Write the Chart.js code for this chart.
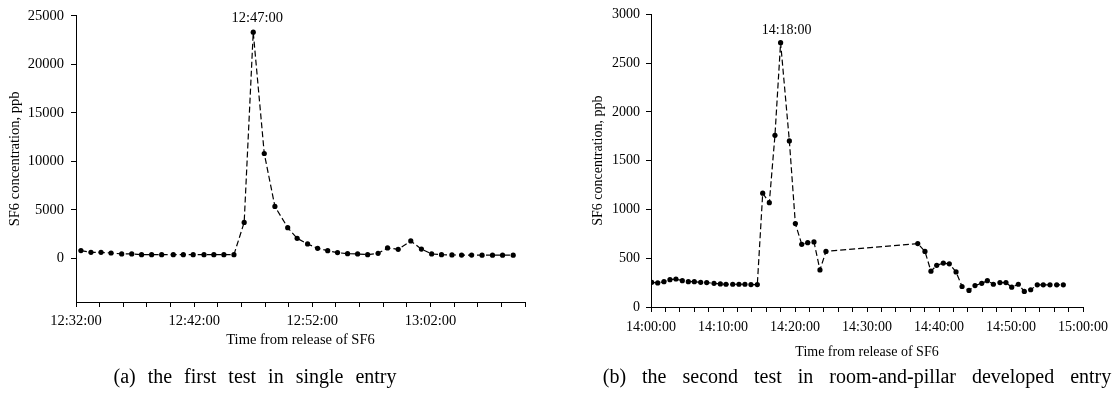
<!DOCTYPE html>
<html>
<head>
<meta charset="utf-8">
<script src="https://cdn.jsdelivr.net/npm/chart.js@4/dist/chart.umd.min.js"></script>
<style>
	body {
		margin: 0;
		background: #fff;
		width: 1120px;
		height: 399px;
		position: relative;
		overflow: hidden;
		font-family: "Liberation Serif", "Times New Roman", serif;
		color: #000;
	}
	.box {
		position: absolute;
		top: 0;
	}
	.box canvas {
		display: block;
	}
	.caption {
		position: absolute;
		top: 365px;
		font-size: 20px;
		line-height: 22px;
		white-space: nowrap;
		transform: translateX(-50%);
	}
</style>
</head>
<body>
<div class="box" style="left:0"><canvas id="chart_first" width="560" height="370"></canvas></div>
<div class="box" style="left:560px"><canvas id="chart_second" width="560" height="370"></canvas></div>
<div class="caption" style="left:255px;word-spacing:7px">(a) the first test in single entry</div>
<div class="caption" style="left:857px;word-spacing:11px">(b) the second test in room-and-pillar developed entry</div>
<script>
'use strict';

// (a) first test, single entry
const firstTimes = [
	'12:32:25', '12:33:16', '12:34:07', '12:34:58', '12:35:52', '12:36:43', '12:37:33', '12:38:24',
	'12:39:15', '12:40:14', '12:41:05', '12:41:55', '12:42:50', '12:43:40', '12:44:31', '12:45:22',
	'12:46:14', '12:47:00', '12:47:56', '12:48:50', '12:49:55', '12:50:43', '12:51:36', '12:52:27',
	'12:53:18', '12:54:08', '12:54:59', '12:55:50', '12:56:41', '12:57:34', '12:58:22', '12:59:16',
	'13:00:20', '13:01:14', '13:02:06', '13:02:56', '13:03:49', '13:04:38', '13:05:29', '13:06:22',
	'13:07:15', '13:08:06', '13:09:00',
];
const firstSF6 = [
	800, 620, 620, 550, 450, 450, 380, 380,
	380, 380, 380, 380, 380, 380, 380, 380,
	3700, 23300, 10800, 5350, 3160, 2060, 1480, 1030,
	790, 590, 480, 450, 380, 520, 1070, 930,
	1790, 950, 450, 380, 350, 330, 330, 320,
	320, 320, 320,
];
const firstRange = ['12:32:00', '13:10:00'];
const firstYTicks = [0, 5000, 10000, 15000, 20000, 25000];
const firstYMin = -4500;

// (b) second test, room-and-pillar developed entry
const secondTimes = [
	'14:00:06', '14:00:56', '14:01:48', '14:02:38', '14:03:28', '14:04:21', '14:05:11', '14:06:01',
	'14:06:54', '14:07:44', '14:08:45', '14:09:38', '14:10:25', '14:11:21', '14:12:13', '14:13:03',
	'14:13:53', '14:14:46', '14:15:31', '14:16:26', '14:17:13', '14:18:00', '14:19:13', '14:20:03',
	'14:20:56', '14:21:46', '14:22:38', '14:23:28', '14:24:18', '14:37:03', '14:38:03', '14:38:53',
	'14:39:41', '14:40:36', '14:41:26', '14:42:22', '14:43:12', '14:44:10', '14:45:00', '14:45:56',
	'14:46:43', '14:47:33', '14:48:28', '14:49:18', '14:50:06', '14:51:01', '14:51:51', '14:52:44',
	'14:53:39', '14:54:29', '14:55:25', '14:56:21', '14:57:16',
];
const secondSF6 = [
	253, 247, 260, 280, 287, 270, 260, 260,
	253, 250, 243, 237, 233, 233, 233, 233,
	230, 230, 1167, 1070, 1760, 2710, 1703, 855,
	643, 660, 667, 380, 570, 650, 570, 367,
	427, 450, 443, 360, 210, 170, 220, 243,
	270, 233, 250, 250, 203, 233, 160, 177,
	227, 227, 227, 227, 227,
];
const secondRange = ['14:00:00', '15:00:00'];
const secondYTicks = [0, 500, 1000, 1500, 2000, 2500, 3000];
const secondYMin = 0;

const FONT = '"Liberation Serif", "Times New Roman", serif';

function toSec(str) {
	let [h, m, s] = str.split(':').map(Number);
	return h * 3600 + m * 60 + s;
}

function toClock(sec) {
	let pad = n => (n < 10 ? '0' + n : '' + n);
	return `${Math.floor(sec / 3600)}:${pad(Math.floor(sec / 60) % 60)}:${pad(sec % 60)}`;
}

const peakLabel = {
	id: 'peakLabel',
	afterDatasetsDraw(chart, args, opts) {
		let data = chart.data.datasets[0].data,
			k = 0;
		data.forEach((p, i) => {
			if (p.y > data[k].y) k = i;
		});
		let pt = chart.getDatasetMeta(0).data[k],
			ctx = chart.ctx;
		ctx.save();
		ctx.font = `${opts.size}px ${FONT}`;
		ctx.fillStyle = '#000';
		ctx.textAlign = 'center';
		ctx.textBaseline = 'middle';
		ctx.fillText(toClock(data[k].x), pt.x + opts.dx, pt.y + opts.dy);
		ctx.restore();
	}
};

function setConfig(times, values, range, yTicks, yMin, o) {
	let xMin = toSec(range[0]),
		xMax = toSec(range[1]),
		font = {family: FONT, size: o.fontSize};
	return {
		type: 'line',
		data: {
			datasets: [{
				data: times.map((t, i) => ({x: toSec(t), y: values[i]})),
				borderColor: '#000',
				borderWidth: 1.2,
				borderDash: [6, 3],
				pointRadius: 2.6,
				pointBorderWidth: 0,
				pointBackgroundColor: '#000',
				tension: 0,
				fill: false,
			}],
		},
		options: {
			responsive: false,
			animation: false,
			layout: {padding: {left: 0, top: o.top, right: o.right, bottom: 0}},
			plugins: {
				legend: {display: false},
				tooltip: {enabled: false},
				peakLabel: {size: o.fontSize, dx: o.peakDx, dy: o.peakDy},
			},
			scales: {
				x: {
					type: 'linear',
					min: xMin,
					max: xMax,
					afterFit: s => { s.height = o.xHeight; },
					afterBuildTicks: s => {
						let list = [];
						for (let v = xMin; v <= xMax; v += 120) list.push({value: v});
						s.ticks = list;
					},
					ticks: {
						autoSkip: false,
						maxRotation: 0,
						padding: o.xPad,
						color: '#000',
						font: font,
						callback: v => ((v - xMin) % 600 === 0 ? toClock(v) : ''),
					},
					grid: {display: true, drawOnChartArea: false, drawTicks: true, tickLength: 5, color: '#000'},
					border: {display: true, color: '#000', width: 1},
					title: {
						display: true,
						text: 'Time from release of SF6',
						color: '#000',
						font: font,
						padding: {top: 0, bottom: o.xTitlePad},
					},
				},
				y: {
					min: yMin,
					max: yTicks[yTicks.length - 1],
					afterFit: s => { s.width = o.yWidth; },
					afterBuildTicks: s => { s.ticks = yTicks.map(v => ({value: v})); },
					ticks: {padding: o.yPad, color: '#000', font: font, callback: v => String(v)},
					grid: {display: true, drawOnChartArea: false, drawTicks: true, tickLength: 5, color: '#000'},
					border: {display: true, color: '#000', width: 1},
					title: {
						display: true,
						text: 'SF6 concentration, ppb',
						color: '#000',
						font: font,
						padding: {top: o.yTitlePad, bottom: 0},
					},
				},
			},
		},
		plugins: [peakLabel],
	};
}

function renderChart(select, config) {
	let ctx = document.getElementById(select).getContext('2d');
	return new Chart(ctx, config);
}

renderChart('chart_first', setConfig(firstTimes, firstSF6, firstRange, firstYTicks, firstYMin, {
	fontSize: 14.5, top: 15, right: 35, xHeight: 68, xPad: 5, xTitlePad: 21,
	yWidth: 76, yPad: 7, yTitlePad: 6, peakDx: 4, peakDy: -14,
}));
renderChart('chart_second', setConfig(secondTimes, secondSF6, secondRange, secondYTicks, secondYMin, {
	fontSize: 14, top: 7, right: 37, xHeight: 63, xPad: 7, xTitlePad: 9,
	yWidth: 91, yPad: 6, yTitlePad: 30, peakDx: 6, peakDy: -12,
}));
</script>
</body>
</html>
